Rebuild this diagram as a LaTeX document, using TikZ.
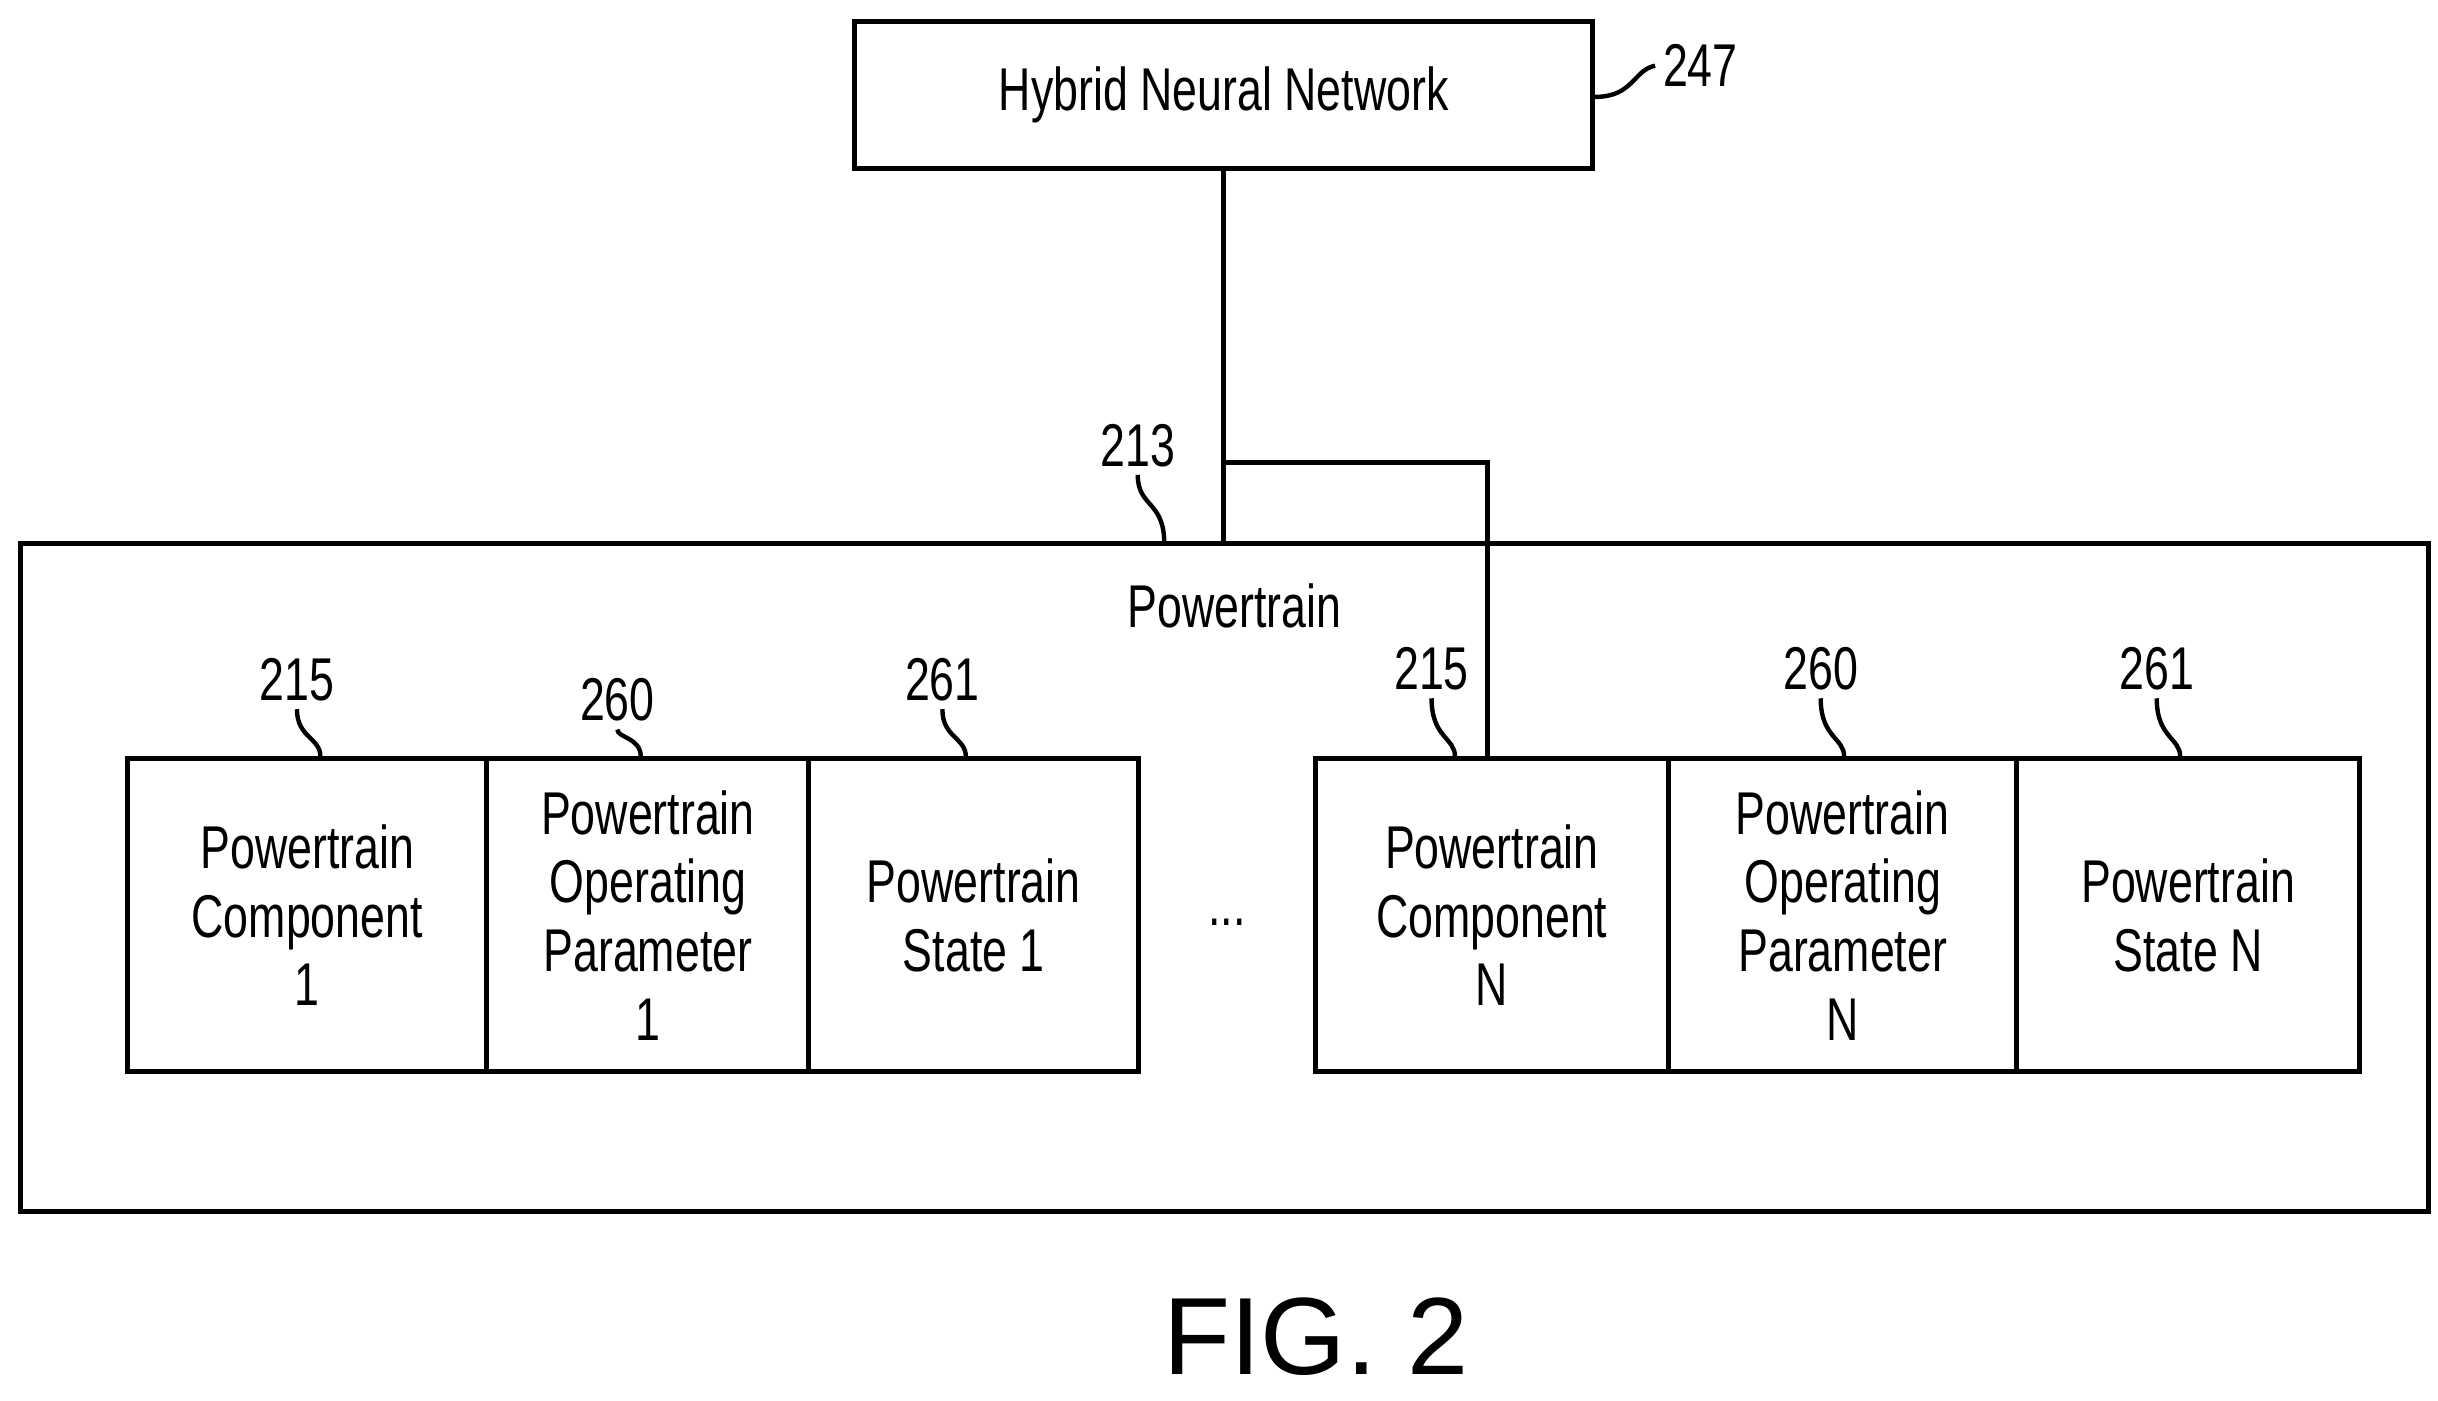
\documentclass[tikz,border=0pt]{standalone}
\usepackage{fontspec}
\setmainfont{Liberation Sans}
\newfontfamily\narrowfont[FakeStretch=0.74]{Liberation Sans}
\usetikzlibrary{positioning}
\begin{document}
\begin{tikzpicture}[x=0.1mm,y=-0.1mm,line width=0.9pt,
	box/.style={draw,rectangle,inner sep=0pt,font=\narrowfont\fontsize{11}{12.5}\selectfont,align=center},
	num/.style={font=\narrowfont\fontsize{11}{12}\selectfont,inner sep=1pt},
	lead/.style={line width=0.8pt}]
	\useasboundingbox (0,0) rectangle (1560,896);
	% top block
	\node[box,minimum width=47.2mm,minimum height=9.4mm] (hnn) at (783,61) {Hybrid Neural Network};
	\node[num] (n247) at (1088,42) {247};
	\draw[lead] (hnn.east |- 0,62) .. controls (1045,62) and (1045,45) .. (n247.west);
	% outer box
	\draw (13,348) rectangle (1554,775);
	\node[num] at (790,388) {Powertrain};
	\node[num] (n213) at (728,285) {213};
	\draw[lead] (n213.south) .. controls (728,325) and (745,320) .. (745,348);
	% left and right groups
	\foreach \x/\w/\nm/\txt/\lx/\ly/\id in {
		80/230/c1/{Powertrain\\Component\\1}/190/435/215,
		310/206/p1/{Powertrain\\Operating\\Parameter\\1}/395/448/260,
		516/211/s1/{Powertrain\\State 1}/603/435/261,
		840/226/cn/{Powertrain\\Component\\N}/916/428/215,
		1066/223/pn/{Powertrain\\Operating\\Parameter\\N}/1165/428/260,
		1289/219/sn/{Powertrain\\State N}/1380/428/261}{
		\node[box,anchor=north west,minimum width=\w*0.1mm,minimum height=20mm] (\nm) at (\x,484) {\txt};
		\node[num] (l\nm) at (\lx,\ly) {\id};
		\draw[lead] (l\nm.south) .. controls (\lx,472) and (\lx+15,472) .. (\lx+15,484);
	}
	\node[num] (dots) at (785,590) {...};
	% connectors
	\coordinate (bend) at (783,296);
	\draw (hnn.south) -- (783,348);
	\draw (bend) -| (cn.north -| 952,0);
	\node[font=\fontsize{20}{22}\selectfont] (fig) at (842,855) {FIG. 2};
\end{tikzpicture}
\end{document}
